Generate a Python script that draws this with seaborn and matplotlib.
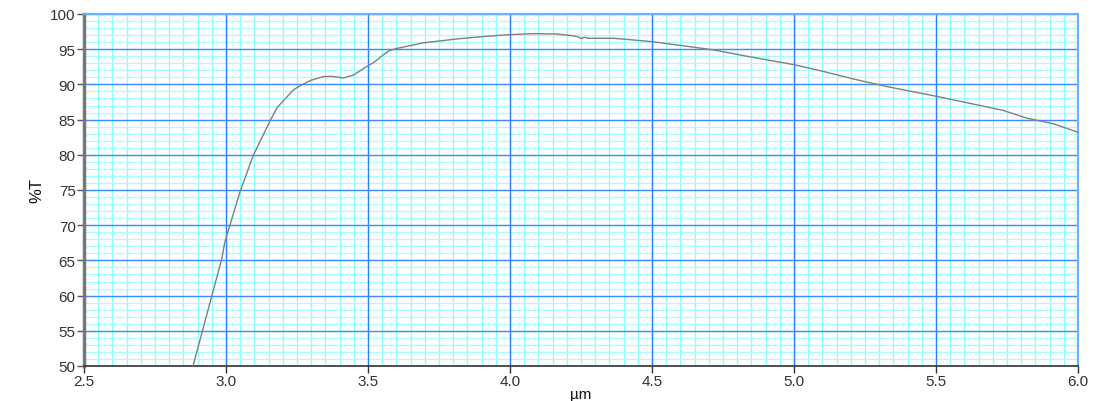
import numpy as np
import matplotlib
matplotlib.use("Agg")
import matplotlib.pyplot as plt
from matplotlib.ticker import MultipleLocator
import seaborn as sns

# wavelength (um) and transmittance (%T)
wavelength = [2.884, 2.985, 2.996, 3.049, 3.096, 3.155, 3.180, 3.214, 3.240,
              3.272, 3.300, 3.343, 3.370, 3.401, 3.413, 3.437, 3.448, 3.498,
              3.520, 3.536, 3.554, 3.575, 3.601, 3.695, 3.812, 3.906, 4.000,
              4.082, 4.165, 4.223, 4.240, 4.252, 4.262, 4.275, 4.364, 4.423,
              4.500, 4.599, 4.716, 4.834, 5.000, 5.092, 5.209, 5.326, 5.502,
              5.620, 5.737, 5.820, 5.914, 6.000]
transmittance = [50.0, 65.2, 67.6, 74.7, 79.9, 84.8, 86.7, 88.2, 89.3,
                 90.05, 90.6, 91.1, 91.15, 91.0, 90.9, 91.2, 91.3, 92.6,
                 93.1, 93.6, 94.2, 94.8, 95.1, 95.9, 96.45, 96.8, 97.07,
                 97.2, 97.16, 96.9, 96.75, 96.5, 96.7, 96.55, 96.55, 96.35,
                 96.07, 95.55, 94.9, 94.0, 92.8, 91.95, 90.77, 89.7, 88.3,
                 87.3, 86.3, 85.2, 84.4, 83.2]

x_min, x_max = 2.5, 6.0
y_min, y_max = 50, 100

sns.set_style("white")
plt.rcParams['font.family'] = ['Liberation Sans', 'DejaVu Sans']

fig = plt.figure(figsize=(10.99, 4.02), dpi=100)
ax = fig.add_axes([0.0764, 0.0871, 0.9045, 0.8756])

# graph-paper grid: fine cyan lines under coarser blue ones
for xv in np.arange(x_min, x_max + 1e-9, 0.05):
    ax.axvline(xv, color='#8afcff', linewidth=0.9, zorder=0.5)
for yv in np.arange(y_min, y_max + 1e-9, 1):
    ax.axhline(yv, color='#a6fdff', linewidth=0.9, zorder=0.5)
for xv in np.arange(x_min, x_max + 1e-9, 0.5):
    ax.axvline(xv, color='#2a80ff', linewidth=1.0, zorder=0.6)
for yv in np.arange(y_min, y_max + 1e-9, 5):
    ax.axhline(yv, color='#3a8cff', linewidth=1.0, zorder=0.6)

sns.lineplot(x=wavelength, y=transmittance, ax=ax, color='#7f7f7f',
             linewidth=1.0, zorder=5)

ax.set_xlim(x_min, x_max)
ax.set_ylim(y_min, y_max)
ax.xaxis.set_major_locator(MultipleLocator(0.5))
ax.yaxis.set_major_locator(MultipleLocator(5))
ax.xaxis.set_major_formatter(plt.FormatStrFormatter('%.1f'))

ax.tick_params(axis='y', which='major', direction='out', length=5, width=1,
               color='#555555', labelsize=11, labelcolor='#333333', pad=1,
               left=True)
ax.tick_params(axis='x', which='major', direction='out', length=5, width=1,
               color='#333333', labelsize=11, labelcolor='#333333', pad=1,
               bottom=True)

for side in ['top', 'right']:
    ax.spines[side].set_color('#66b3ff')
    ax.spines[side].set_linewidth(1.5)
ax.spines['left'].set_color('#777777')
ax.spines['left'].set_linewidth(2.5)
ax.spines['bottom'].set_color('#333333')
ax.spines['bottom'].set_linewidth(1.2)

ax.set_xlabel('µm', fontsize=11, color='#111111', labelpad=-1)
ax.set_ylabel('%T', fontsize=12, color='#111111', labelpad=4)

fig.savefig('out.png', dpi=100)
